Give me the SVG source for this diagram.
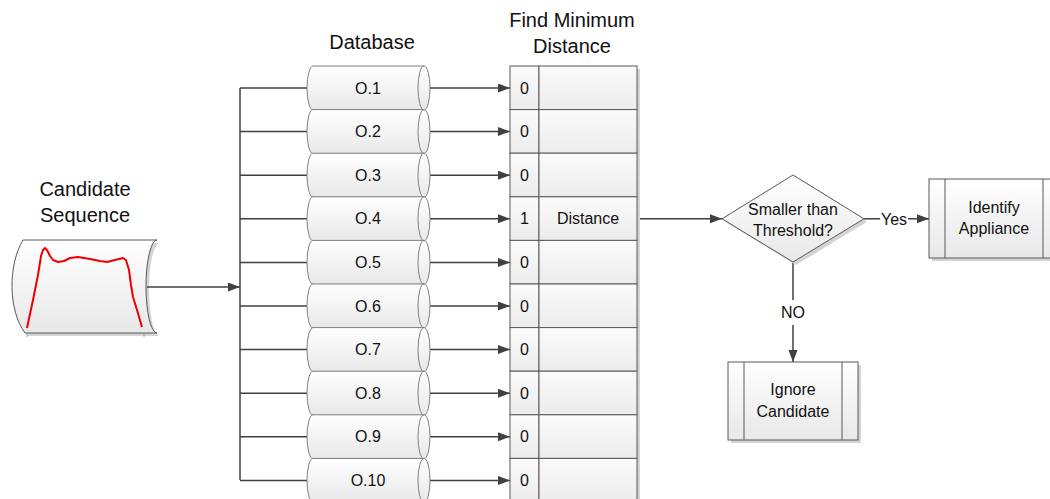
<svg xmlns="http://www.w3.org/2000/svg" width="1050" height="499" viewBox="0 0 1050 499">
  <defs>
    <linearGradient id="shade" x1="0" y1="0" x2="0" y2="1">
      <stop offset="0" stop-color="#ffffff"/>
      <stop offset="1" stop-color="#e8e8e8"/>
    </linearGradient>
    <linearGradient id="cellShade" x1="0" y1="0" x2="0" y2="1">
      <stop offset="0" stop-color="#fbfbfb"/>
      <stop offset="1" stop-color="#ececec"/>
    </linearGradient>
    <marker id="arrow" markerUnits="userSpaceOnUse" markerWidth="13" markerHeight="10" refX="12" refY="4.5" orient="auto">
      <path d="M0,0 L12,4.5 L0,9 Z" fill="#404040"/>
    </marker>
    <!-- horizontal cylinder, local origin at the top-left of the body -->
    <g id="cyl">
      <path d="M6,0 L117,0 A6,22 0 0 1 117,44 L6,44 A6,22 0 0 1 6,0 Z" fill="url(#shade)" stroke="#808080" stroke-width="1"/>
      <path d="M117,0 A6,22 0 0 0 117,44" fill="none" stroke="#808080" stroke-width="1"/>
    </g>
    <!-- one row of the distance table -->
    <g id="row">
      <rect x="0" y="0" width="29" height="43.6" fill="url(#cellShade)" stroke="#595959" stroke-width="1"/>
      <rect x="29" y="0" width="98" height="43.6" fill="url(#cellShade)" stroke="#595959" stroke-width="1"/>
    </g>
  </defs>
  <style>
    text { font-family: "Liberation Sans", Arial, sans-serif; fill: #111; text-anchor: middle; }
    .head { font-size: 20px; }
    .lbl { font-size: 16px; }
    .num { font-size: 16px; }
    .wire { fill: none; stroke: #404040; stroke-width: 1.5; }
    .arr { fill: none; stroke: #404040; stroke-width: 1.5; marker-end: url(#arrow); }
    .box { fill: url(#shade); stroke: #595959; stroke-width: 1; }
    .shadow { fill: #d4d4d4; }
  </style>

  <rect width="1050" height="499" fill="#ffffff"/>

  <!-- headings -->
  <text class="head" x="85" y="196">Candidate</text>
  <text class="head" x="85" y="222">Sequence</text>
  <text class="head" x="372" y="49">Database</text>
  <text class="head" x="572" y="27">Find Minimum</text>
  <text class="head" x="572" y="53">Distance</text>

  <!-- candidate sequence: tape-like shape holding the power curve -->
  <g id="candidate">
    <path d="M26,243 L160,243 A11,46.5 0 0 0 160,336 L28,336 C11,313 11,268 26,243 Z" class="shadow"/>
    <path d="M23,240 L157,240 A11,46.5 0 0 0 157,333 L25,333 C8,310 8,265 23,240 Z" fill="url(#shade)" stroke="#595959" stroke-width="1"/>
    <path d="M27,328 L33,300 L38,275 L41,256 L43,250 L45,248 L47,250 L50,256 L53,260 L58,262 L64,261 L70,258 L78,257 L90,259 L100,261 L107,262 L115,260 L123,258 L126,260 L129,270 L131,285 L133,297 L137,310 L142,327" fill="none" stroke="#ee0000" stroke-width="2" stroke-linejoin="round"/>
    <line x1="27" y1="334" x2="27" y2="337" stroke="#999" stroke-width="1"/>
    <line x1="144" y1="334" x2="144" y2="337" stroke="#999" stroke-width="1"/>
  </g>

  <!-- connectors -->
  <g id="connectors">
    <line class="arr" x1="147" y1="287" x2="240" y2="287"/>
    <line class="wire" x1="240" y1="88" x2="240" y2="480"/>
    <line class="wire" x1="240" y1="88" x2="307" y2="88"/>
    <line class="wire" x1="240" y1="131.6" x2="307" y2="131.6"/>
    <line class="wire" x1="240" y1="175.2" x2="307" y2="175.2"/>
    <line class="wire" x1="240" y1="218.8" x2="307" y2="218.8"/>
    <line class="wire" x1="240" y1="262.4" x2="307" y2="262.4"/>
    <line class="wire" x1="240" y1="306" x2="307" y2="306"/>
    <line class="wire" x1="240" y1="349.6" x2="307" y2="349.6"/>
    <line class="wire" x1="240" y1="393.2" x2="307" y2="393.2"/>
    <line class="wire" x1="240" y1="436.8" x2="307" y2="436.8"/>
    <line class="wire" x1="240" y1="480.4" x2="307" y2="480.4"/>
    <line class="arr" x1="430" y1="88" x2="510" y2="88"/>
    <line class="arr" x1="430" y1="131.6" x2="510" y2="131.6"/>
    <line class="arr" x1="430" y1="175.2" x2="510" y2="175.2"/>
    <line class="arr" x1="430" y1="218.8" x2="510" y2="218.8"/>
    <line class="arr" x1="430" y1="262.4" x2="510" y2="262.4"/>
    <line class="arr" x1="430" y1="306" x2="510" y2="306"/>
    <line class="arr" x1="430" y1="349.6" x2="510" y2="349.6"/>
    <line class="arr" x1="430" y1="393.2" x2="510" y2="393.2"/>
    <line class="arr" x1="430" y1="436.8" x2="510" y2="436.8"/>
    <line class="arr" x1="430" y1="480.4" x2="510" y2="480.4"/>
    <line class="arr" x1="637" y1="218.8" x2="722" y2="218.8"/>
    <line class="wire" x1="864" y1="218.8" x2="880" y2="218.8"/>
    <text class="lbl" x="894" y="224.5">Yes</text>
    <line class="arr" x1="908" y1="218.8" x2="929" y2="218.8"/>
    <line class="wire" x1="793" y1="262" x2="793" y2="300"/>
    <text class="lbl" x="793" y="318">NO</text>
    <line class="arr" x1="793" y1="325" x2="793" y2="362"/>
  </g>

  <!-- database entries -->
  <g id="db1"><use href="#cyl" x="307" y="66"/><text class="lbl" x="368" y="93.5">O.1</text></g>
  <g id="db2"><use href="#cyl" x="307" y="109.6"/><text class="lbl" x="368" y="137.1">O.2</text></g>
  <g id="db3"><use href="#cyl" x="307" y="153.2"/><text class="lbl" x="368" y="180.7">O.3</text></g>
  <g id="db4"><use href="#cyl" x="307" y="196.8"/><text class="lbl" x="368" y="224.3">O.4</text></g>
  <g id="db5"><use href="#cyl" x="307" y="240.4"/><text class="lbl" x="368" y="267.9">O.5</text></g>
  <g id="db6"><use href="#cyl" x="307" y="284"/><text class="lbl" x="368" y="311.5">O.6</text></g>
  <g id="db7"><use href="#cyl" x="307" y="327.6"/><text class="lbl" x="368" y="355.1">O.7</text></g>
  <g id="db8"><use href="#cyl" x="307" y="371.2"/><text class="lbl" x="368" y="398.7">O.8</text></g>
  <g id="db9"><use href="#cyl" x="307" y="414.8"/><text class="lbl" x="368" y="442.3">O.9</text></g>
  <g id="db10"><use href="#cyl" x="307" y="458.4"/><text class="lbl" x="368" y="485.9">O.10</text></g>

  <!-- minimum distance table -->
  <g id="table">
    <rect class="shadow" x="513" y="69" width="127" height="436"/>
    <use href="#row" x="510" y="66"/>
    <use href="#row" x="510" y="109.6"/>
    <use href="#row" x="510" y="153.2"/>
    <use href="#row" x="510" y="196.8"/>
    <use href="#row" x="510" y="240.4"/>
    <use href="#row" x="510" y="284"/>
    <use href="#row" x="510" y="327.6"/>
    <use href="#row" x="510" y="371.2"/>
    <use href="#row" x="510" y="414.8"/>
    <use href="#row" x="510" y="458.4"/>
    <text class="num" x="524.5" y="93.5">0</text>
    <text class="num" x="524.5" y="137.1">0</text>
    <text class="num" x="524.5" y="180.7">0</text>
    <text class="num" x="524.5" y="224.3">1</text>
    <text class="lbl" x="588" y="224.3">Distance</text>
    <text class="num" x="524.5" y="267.9">0</text>
    <text class="num" x="524.5" y="311.5">0</text>
    <text class="num" x="524.5" y="355.1">0</text>
    <text class="num" x="524.5" y="398.7">0</text>
    <text class="num" x="524.5" y="442.3">0</text>
    <text class="num" x="524.5" y="485.9">0</text>
  </g>

  <!-- threshold decision -->
  <g id="decision">
    <polygon class="shadow" points="725,221.8 796,178 867,221.8 796,265"/>
    <polygon points="722,218.8 793,175 864,218.8 793,262" fill="url(#shade)" stroke="#595959" stroke-width="1"/>
    <text class="lbl" x="793" y="215">Smaller than</text>
    <text class="lbl" x="793" y="236">Threshold?</text>
  </g>

  <!-- identify appliance -->
  <g id="identify">
    <rect class="shadow" x="932" y="182" width="130" height="79"/>
    <rect class="box" x="929" y="179" width="130" height="79"/>
    <line x1="945" y1="179" x2="945" y2="258" stroke="#595959" stroke-width="1"/>
    <line x1="1043" y1="179" x2="1043" y2="258" stroke="#595959" stroke-width="1"/>
    <text class="lbl" x="994" y="213">Identify</text>
    <text class="lbl" x="994" y="234">Appliance</text>
  </g>

  <!-- ignore candidate -->
  <g id="ignore">
    <rect class="shadow" x="731" y="365" width="130" height="78"/>
    <rect class="box" x="728" y="362" width="130" height="78"/>
    <line x1="744" y1="362" x2="744" y2="440" stroke="#595959" stroke-width="1"/>
    <line x1="842" y1="362" x2="842" y2="440" stroke="#595959" stroke-width="1"/>
    <text class="lbl" x="793" y="395">Ignore</text>
    <text class="lbl" x="793" y="417">Candidate</text>
  </g>
</svg>
